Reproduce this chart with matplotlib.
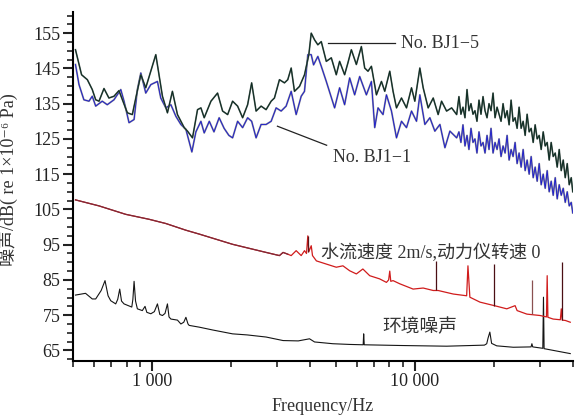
import numpy as np
import matplotlib
matplotlib.use("Agg")
import matplotlib.pyplot as plt
from matplotlib.ticker import FixedLocator, NullFormatter

plt.rcParams["font.family"] = ["Liberation Serif", "Noto Sans CJK SC", "DejaVu Serif"]

# --- No. BJ1-5 (upper spectrum) ---
bj15_freq = [511, 539, 567, 592, 610, 628, 656, 685, 716, 748, 805, 841, 867, 906, 946, 989, 1033, 1063,
             1095, 1144, 1195, 1249, 1325, 1364, 1425, 1489, 1534, 1579, 1675, 1775, 1855, 1939, 2025, 2116,
             2211, 2310, 2393, 2488, 2600, 2716, 2839, 2922, 3053, 3190, 3284, 3384, 3483, 3640, 3803, 3950,
             4034, 4153, 4275, 4405, 4603, 4810, 5024, 5173, 5405, 5565, 5734, 5991, 6260, 6445, 6634, 6836,
             7143, 7464, 7683, 8028, 8264, 8516, 8897, 9297, 9714, 10000, 10450, 10760, 11240, 11750, 12270,
             12640, 13210, 13810, 14430]
bj15_db = [150.3, 143.2, 141.8, 139.0, 136.1, 135.7, 139.3, 136.6, 137.1, 138.7, 132.4, 131.9, 136.6, 143.2,
           139.5, 144.2, 148.9, 143.2, 137.1, 132.4, 138.5, 131.9, 128.2, 127.2, 125.3, 133.3, 133.8, 131.0,
           135.7, 138.0, 132.9, 131.9, 135.7, 134.3, 131.0, 134.7, 140.9, 132.9, 134.3, 133.3, 135.7, 136.6,
           141.8, 140.9, 141.8, 145.1, 138.5, 139.9, 143.2, 148.9, 155.0, 153.1, 151.7, 152.6, 147.0, 148.0,
           143.2, 147.0, 143.2, 146.6, 150.3, 146.1, 151.2, 145.1, 144.2, 145.6, 137.5, 141.3, 138.5, 144.2,
           138.5, 133.8, 136.6, 133.8, 139.5, 135.7, 145.1, 139.5, 133.8, 136.6, 131.9, 135.7, 132.9, 133.8,
           131.9]

# --- No. BJ1-1 (lower spectrum) ---
bj11_freq = [511, 527, 550, 575, 592, 610, 646, 675, 716, 760, 782, 817, 854, 879, 906, 946, 989, 1048, 1079,
             1128, 1179, 1232, 1287, 1345, 1417, 1468, 1534, 1579, 1651, 1720, 1800, 1880, 1960, 2025, 2116,
             2211, 2310, 2393, 2488, 2600, 2716, 2839, 2966, 3099, 3237, 3384, 3535, 3694, 3803, 3915, 4034,
             4117, 4275, 4405, 4603, 4951, 5173, 5405, 5649, 5902, 6168, 6541, 6836, 7037, 7244, 7568, 7798,
             8149, 8516, 8897, 9297, 9714, 10150, 10450, 10920, 11410, 11920, 12460, 13020, 13600, 14430]
bj11_db = [146.1, 140.4, 136.1, 135.7, 137.1, 134.3, 135.7, 134.7, 136.1, 139.0, 135.7, 129.6, 130.5, 139.0,
           143.7, 138.0, 140.4, 141.3, 136.6, 133.8, 134.7, 131.4, 129.1, 127.7, 121.3, 127.0, 130.0, 126.7,
           130.0, 127.0, 131.0, 128.0, 126.0, 125.3, 130.0, 128.2, 131.0, 130.0, 125.3, 129.1, 129.1, 130.0,
           133.8, 132.9, 134.3, 138.5, 131.9, 137.1, 138.5, 148.9, 148.9, 146.0, 148.4, 145.6, 141.3, 133.8,
           139.5, 134.7, 142.3, 137.5, 142.7, 137.5, 141.3, 128.2, 133.8, 131.9, 137.5, 132.9, 125.3, 130.0,
           128.2, 132.9, 130.0, 137.5, 129.1, 131.0, 127.2, 129.1, 122.5, 127.2, 125.3]

# high-frequency band, shared frequency grid
hf_freq = [14720, 14980, 15250, 15520, 15800, 16070, 16360, 16650, 16940, 17240,
           17550, 17860, 18180, 18500, 18830, 19160, 19500, 19850, 20200, 20560,
           20920, 21290, 21670, 22060, 22450, 22850, 23250, 23660, 24080, 24510,
           24940, 25390, 25840, 26300, 26760, 27240, 27720, 28220, 28710, 29220,
           29740, 30270, 30810, 31350, 31900, 32470, 33040, 33630, 34230, 34830,
           35450, 36080, 36720, 37370, 38030, 38700, 39390, 39910]
hf_bj15_db = [137, 132, 134, 131, 139, 133, 135, 132, 133, 130,
              136, 132, 137, 133, 131, 135, 133, 138, 131, 134,
              132, 130, 135, 131, 133, 129, 136, 130, 131, 128,
              134, 128, 130, 126, 132, 127, 128, 124, 129, 125,
              126, 122, 127, 123, 124, 119, 124, 120, 121, 117,
              122, 116, 119, 114, 118, 112, 114, 110]
hf_bj11_db = [127, 124, 129, 123, 126, 122, 128, 124, 125, 121,
              127, 123, 124, 121, 126, 122, 128, 121, 124, 122,
              125, 120, 123, 121, 126, 119, 122, 120, 124, 118,
              121, 117, 122, 116, 119, 115, 120, 114, 117, 113,
              118, 112, 115, 111, 116, 110, 113, 109, 114, 108,
              112, 109, 111, 107, 110, 106, 107, 104]

# --- water flow 2 m/s, dynamometer speed 0 ---
flow_freq = [511, 628, 794, 974, 1128, 1345, 1512, 2025, 2716, 3053,
             3151, 3284, 3384, 3535, 3694, 3803, 3870, 3915, 3950, 4034,
             4079, 4221, 4603, 5024, 5326, 5649, 5991, 6342, 6734, 7344,
             7798, 7950, 8028, 8100, 8264, 8766, 9852, 10760, 11750, 12270,
             14000, 15750, 15930, 16200, 17700, 20080, 22390, 24080, 24510, 26700,
             30000, 31700, 31900, 32100, 33600, 35800, 36100, 36400, 37400, 39050]
flow_db = [107.7, 106.0, 103.6, 102.2, 101.0, 99.1, 98.0, 95.1, 92.8, 91.9,
           92.8, 92.3, 91.9, 93.3, 91.9, 93.3, 92.5, 97.5, 93.0, 94.7,
           91.9, 90.4, 89.5, 88.6, 89.0, 87.6, 86.7, 88.1, 86.2, 85.3,
           84.3, 85.0, 87.5, 84.6, 84.8, 83.9, 82.4, 82.7, 82.0, 82.0,
           81.0, 80.5, 89.0, 80.1, 78.7, 77.7, 76.8, 77.7, 76.3, 75.3,
           74.9, 74.5, 86.2, 74.4, 73.9, 73.7, 76.8, 73.6, 73.5, 73.0]
# narrow dark tonal lines on the flow spectrum
tone_freq = [3915, 12030, 20080, 28040, 36300]
tone_base = [93.0, 82.0, 77.7, 75.3, 73.7]
tone_top = [97.5, 90.4, 89.5, 85.0, 90.0]
tone_color = ["#5a1418", "#4a0f14", "#4a0f14", "#8a5050", "#4a0f14"]

# --- ambient noise ---
env_freq = [511, 558, 592, 610, 640, 662, 680, 696, 727, 740,
            753, 765, 782, 837, 845, 854, 865, 879, 918, 940,
            955, 989, 1020, 1048, 1070, 1095, 1120, 1144, 1160, 1179,
            1249, 1287, 1320, 1345, 1370, 1384, 1512, 1700, 2025, 2300,
            2716, 3151, 3600, 3974, 4153, 4877, 5649, 6360, 6387, 6420,
            8766, 13210, 18400, 18780, 19000, 19300, 19600, 20500, 23700, 27700,
            27900, 28100, 30700, 30880, 31050, 39050]
env_db = [80.7, 81.2, 79.6, 79.6, 82.0, 84.8, 80.5, 79.1, 78.2, 79.5,
          82.4, 79.0, 78.2, 77.3, 79.5, 84.6, 79.0, 76.8, 76.3, 77.5,
          75.8, 75.4, 76.0, 78.2, 75.2, 74.9, 75.5, 78.2, 74.5, 73.9,
          73.6, 72.5, 73.0, 74.4, 72.5, 72.1, 71.6, 70.8, 69.7, 69.4,
          68.8, 67.8, 67.7, 68.3, 67.4, 66.9, 66.7, 66.6, 69.7, 66.6,
          66.4, 66.2, 66.5, 66.9, 68.5, 70.2, 67.0, 66.3, 65.9, 66.0,
          66.9, 66.0, 65.6, 80.1, 65.5, 64.1]

x_major = [1000, 10000]
x_major_labels = ["1 000", "10 000"]
x_minor = [500, 600, 700, 800, 900, 2000, 3000, 4000, 5000, 6000, 7000, 8000, 9000,
           20000, 30000, 40000]
y_ticks = [65, 75, 85, 95, 105, 115, 125, 135, 145, 155]

fig = plt.figure(figsize=(5.77, 4.17), dpi=100)
ax = fig.add_axes([73 / 577, 56 / 417, 500 / 577, 349 / 417])

# ambient noise
ax.plot(env_freq, env_db, color="#151515", lw=0.8)

# flow spectrum: dark maroon at low frequency, red higher up
ff = np.array(flow_freq)
fd = np.array(flow_db)
ax.plot(ff, fd, color="#d01c1c", lw=0.9)
low = ff <= 3300
ax.plot(ff[low], fd[low], color="#7e2a38", lw=0.9)
ax.vlines(tone_freq, tone_base, tone_top, colors=tone_color, lw=0.9)

# BJ spectra
f15 = bj15_freq + hf_freq
d15 = bj15_db + hf_bj15_db
f11 = bj11_freq + hf_freq
d11 = bj11_db + hf_bj11_db
ax.plot(f11, d11, color="#8a8a98", lw=1.3)
ax.plot(f11, d11, color="#1818d0", lw=0.6)
ax.plot(f15, d15, color="#5f6a66", lw=1.2)
ax.plot(f15, d15, color="#0b2a20", lw=0.7)

ax.set_xscale("log")
ax.set_xlim(500, 40000)
ax.set_ylim(62, 161)

ax.xaxis.set_major_locator(FixedLocator(x_major))
ax.set_xticklabels(x_major_labels)
ax.xaxis.set_minor_locator(FixedLocator(x_minor))
ax.xaxis.set_minor_formatter(NullFormatter())
ax.set_yticks(y_ticks)
ax.yaxis.set_minor_locator(FixedLocator(np.arange(62.5, 161, 2.5)))

for side in ("top", "right"):
    ax.spines[side].set_visible(False)
for side in ("left", "bottom"):
    ax.spines[side].set_linewidth(1.5)
ax.tick_params(which="major", direction="out", length=7, width=1.5, labelsize=13, pad=2, colors="#222")
ax.tick_params(which="minor", direction="out", length=4, width=1.2, colors="#222")

ax.set_xlabel("Frequency/Hz", fontsize=13, color="#333")
ax.xaxis.set_label_coords(0.5, -0.105)
ax.set_ylabel("噪声/dB( re 1×10⁻⁶ Pa)", fontsize=13, color="#333")
ax.yaxis.set_label_coords(-0.11, 0.52)

# annotations
ax.plot([4656, 8389], [152.1, 152.1], color="#222", lw=0.9)
ax.text(8845, 152.1, "No. BJ1−5", fontsize=13, va="center", ha="left", color="#333")
ax.plot([3000, 4617], [128.6, 123.2], color="#222", lw=0.9)
ax.text(4865, 119.6, "No. BJ1−1", fontsize=13, va="center", ha="left", color="#333")
ax.text(4400, 92.8, "水流速度 2m/s,动力仪转速 0", fontsize=13, va="center", ha="left", color="#333")
ax.text(7551, 71.4, "环境噪声", fontsize=13.5, va="center", ha="left", color="#333")

fig.savefig("out.png", dpi=100)
